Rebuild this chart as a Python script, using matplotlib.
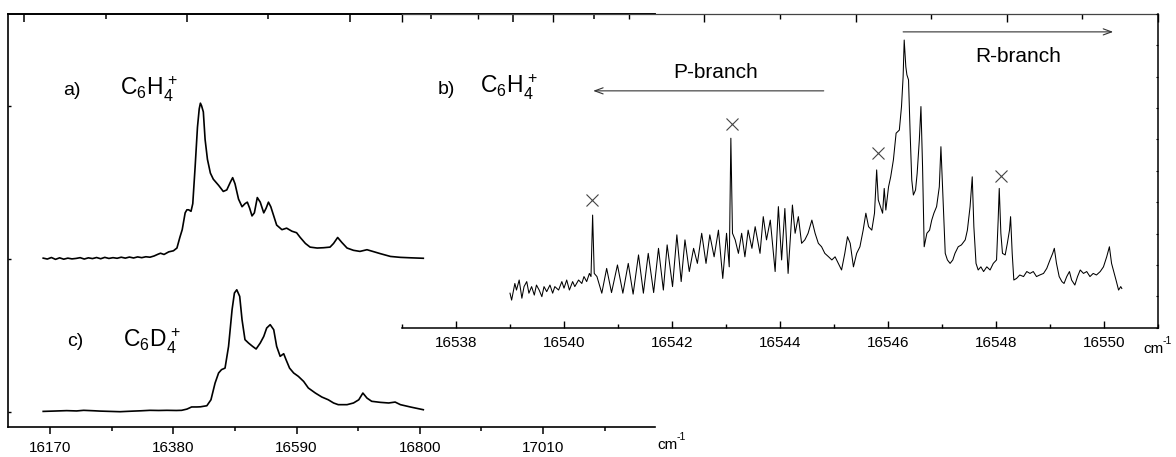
import matplotlib
matplotlib.use("Agg")
import matplotlib.pyplot as plt
from matplotlib.ticker import MultipleLocator, FixedLocator, NullFormatter

plt.rcParams["font.family"] = ["Liberation Sans", "DejaVu Sans"]
plt.rcParams["mathtext.fontset"] = "custom"
plt.rcParams["mathtext.rm"] = "Liberation Sans"
plt.rcParams["mathtext.it"] = "Liberation Sans:italic"
plt.rcParams["mathtext.bf"] = "Liberation Sans:bold"
plt.rcParams["mathtext.default"] = "regular"

# ---- a) C6H4+ low resolution spectrum (offset by 1)
a_x = [16158, 16165, 16172, 16179, 16186, 16193, 16200, 16207, 16214, 16221,
       16228, 16235, 16242, 16249, 16256, 16263, 16270, 16277, 16284, 16291,
       16298, 16305, 16312, 16319, 16326, 16333, 16340, 16347, 16354, 16358,
       16364, 16372, 16380, 16386, 16391, 16395, 16400, 16403, 16406, 16410,
       16413, 16417, 16421, 16424, 16426, 16428, 16431, 16434, 16438, 16443,
       16448, 16457, 16465, 16471, 16477, 16481, 16485, 16491, 16497, 16502,
       16506, 16510, 16514, 16518, 16523, 16528, 16534, 16538, 16542, 16546,
       16551, 16556, 16565, 16573, 16582, 16590, 16596, 16605, 16613, 16625,
       16636, 16647, 16653, 16660, 16667, 16676, 16687, 16698, 16710, 16718,
       16733, 16750, 16767, 16785, 16806]
a_y = [1.004, 0.998, 1.008, 0.996, 1.006, 0.997, 1.004, 0.999, 1.002, 1.007,
       0.998, 1.006, 1.001, 1.008, 1.000, 1.009, 1.002, 1.007, 1.003, 1.010,
       1.004, 1.011, 1.005, 1.012, 1.007, 1.013, 1.010, 1.018, 1.030, 1.036,
       1.028, 1.045, 1.052, 1.070, 1.140, 1.190, 1.300, 1.320, 1.320, 1.310,
       1.360, 1.600, 1.860, 1.980, 2.017, 2.000, 1.960, 1.780, 1.650, 1.560,
       1.520, 1.480, 1.440, 1.450, 1.500, 1.530, 1.490, 1.390, 1.340, 1.360,
       1.370, 1.330, 1.280, 1.300, 1.400, 1.370, 1.300, 1.330, 1.370, 1.340,
       1.280, 1.220, 1.190, 1.200, 1.180, 1.170, 1.140, 1.100, 1.076, 1.070,
       1.072, 1.076, 1.100, 1.139, 1.107, 1.070, 1.055, 1.048, 1.059, 1.050,
       1.033, 1.015, 1.009, 1.006, 1.003]

# ---- c) C6D4+ low resolution spectrum
c_x = [16158, 16175, 16198, 16215, 16227, 16245, 16255, 16272, 16289, 16300,
       16312, 16325, 16340, 16355, 16369, 16385, 16394, 16403, 16411, 16420,
       16426, 16437, 16444, 16451, 16457, 16462, 16468, 16474, 16480, 16484,
       16488, 16493, 16497, 16502, 16508, 16515, 16521, 16528, 16534, 16539,
       16545, 16551, 16556, 16562, 16568, 16572, 16578, 16585, 16593, 16602,
       16610, 16622, 16633, 16644, 16653, 16661, 16676, 16687, 16696, 16703,
       16710, 16718, 16733, 16747, 16758, 16767, 16785, 16806]
c_y = [0.002, 0.004, 0.007, 0.005, 0.009, 0.006, 0.004, 0.002, 0.000, 0.002,
       0.004, 0.006, 0.009, 0.008, 0.009, 0.008, 0.009, 0.017, 0.031, 0.031,
       0.032, 0.039, 0.078, 0.187, 0.253, 0.275, 0.285, 0.427, 0.667, 0.776,
       0.797, 0.754, 0.601, 0.471, 0.449, 0.427, 0.410, 0.449, 0.492, 0.547,
       0.569, 0.536, 0.427, 0.362, 0.379, 0.340, 0.285, 0.253, 0.231, 0.198,
       0.155, 0.122, 0.096, 0.078, 0.057, 0.046, 0.046, 0.057, 0.078, 0.122,
       0.089, 0.068, 0.061, 0.057, 0.063, 0.046, 0.030, 0.013]

# ---- b) C6H4+ high resolution spectrum
b_x = [16539.00, 16539.03, 16539.09, 16539.12, 16539.17, 16539.22, 16539.26, 16539.31,
       16539.35, 16539.40, 16539.45, 16539.49, 16539.54, 16539.59, 16539.63, 16539.68,
       16539.74, 16539.79, 16539.83, 16539.90, 16539.96, 16540.00, 16540.05, 16540.10,
       16540.16, 16540.20, 16540.27, 16540.33, 16540.37, 16540.42, 16540.47, 16540.50,
       16540.53, 16540.56, 16540.61, 16540.70, 16540.79, 16540.88, 16540.99, 16541.09,
       16541.19, 16541.28, 16541.38, 16541.47, 16541.56, 16541.66, 16541.75, 16541.84,
       16541.91, 16542.01, 16542.09, 16542.17, 16542.24, 16542.32, 16542.40, 16542.47,
       16542.55, 16542.63, 16542.70, 16542.78, 16542.86, 16542.94, 16543.01, 16543.06,
       16543.09, 16543.12, 16543.17, 16543.23, 16543.29, 16543.35, 16543.41, 16543.48,
       16543.54, 16543.60, 16543.63, 16543.69, 16543.75, 16543.82, 16543.91, 16543.97,
       16544.03, 16544.09, 16544.15, 16544.23, 16544.28, 16544.34, 16544.40, 16544.46,
       16544.52, 16544.59, 16544.65, 16544.71, 16544.77, 16544.83, 16544.90, 16544.96,
       16545.02, 16545.08, 16545.14, 16545.20, 16545.25, 16545.30, 16545.36, 16545.42,
       16545.48, 16545.54, 16545.59, 16545.64, 16545.70, 16545.75, 16545.79, 16545.82,
       16545.86, 16545.90, 16545.93, 16545.96, 16546.01, 16546.05, 16546.10, 16546.15,
       16546.21, 16546.25, 16546.28, 16546.30, 16546.33, 16546.35, 16546.38, 16546.41,
       16546.44, 16546.47, 16546.51, 16546.54, 16546.58, 16546.61, 16546.64, 16546.67,
       16546.72, 16546.77, 16546.81, 16546.85, 16546.90, 16546.95, 16546.98, 16547.01,
       16547.06, 16547.10, 16547.15, 16547.20, 16547.24, 16547.30, 16547.36, 16547.43,
       16547.47, 16547.52, 16547.56, 16547.59, 16547.63, 16547.67, 16547.72, 16547.77,
       16547.83, 16547.89, 16547.95, 16548.01, 16548.04, 16548.06, 16548.09, 16548.12,
       16548.17, 16548.21, 16548.25, 16548.27, 16548.30, 16548.33, 16548.38, 16548.44,
       16548.51, 16548.57, 16548.63, 16548.69, 16548.75, 16548.81, 16548.88, 16548.94,
       16549.00, 16549.05, 16549.08, 16549.12, 16549.17, 16549.22, 16549.26, 16549.31,
       16549.36, 16549.40, 16549.46, 16549.51, 16549.56, 16549.62, 16549.68, 16549.74,
       16549.80, 16549.86, 16549.93, 16549.99, 16550.05, 16550.10, 16550.14, 16550.19,
       16550.23, 16550.27, 16550.31, 16550.33]
b_y = [1.10, 0.88, 1.41, 1.20, 1.52, 0.94, 1.31, 1.47,
       1.10, 1.31, 1.04, 1.36, 1.20, 0.99, 1.31, 1.15,
       1.36, 1.10, 1.31, 1.20, 1.47, 1.26, 1.52, 1.20,
       1.47, 1.31, 1.52, 1.41, 1.63, 1.47, 1.73, 1.63,
       3.59, 1.73, 1.63, 1.10, 1.89, 1.12, 2.00, 1.10,
       2.05, 1.07, 2.32, 1.10, 2.37, 1.12, 2.53, 1.20,
       2.64, 1.31, 2.96, 1.47, 2.80, 1.79, 2.53, 2.05,
       3.01, 2.05, 2.96, 2.26, 3.11, 1.57, 3.01, 1.94,
       6.04, 3.01, 2.80, 2.37, 3.01, 2.26, 3.11, 2.53,
       3.22, 2.64, 2.37, 3.54, 2.80, 3.43, 1.79, 3.86,
       2.16, 3.80, 1.73, 3.91, 3.01, 3.54, 2.69, 2.80,
       3.01, 3.43, 3.01, 2.69, 2.58, 2.37, 2.26, 2.16,
       2.26, 2.05, 1.84, 2.37, 2.90, 2.69, 1.94, 2.37,
       2.58, 3.11, 3.65, 3.22, 3.11, 3.65, 5.03, 4.07,
       3.86, 3.65, 4.44, 3.75, 4.49, 4.81, 5.35, 6.20,
       6.30, 7.05, 8.00, 9.17, 8.32, 8.06, 7.90, 6.20,
       4.71, 4.23, 4.39, 4.92, 5.98, 7.05, 5.13, 2.58,
       3.01, 3.11, 3.43, 3.65, 3.86, 4.49, 5.77, 4.49,
       2.37, 2.16, 2.05, 2.16, 2.37, 2.58, 2.64, 2.80,
       3.11, 3.86, 4.81, 3.22, 2.05, 1.84, 1.94, 1.79,
       1.94, 1.84, 2.05, 2.16, 3.43, 4.44, 3.01, 2.37,
       2.32, 2.69, 3.11, 3.54, 2.37, 1.52, 1.57, 1.68,
       1.63, 1.79, 1.73, 1.79, 1.63, 1.68, 1.73, 1.89,
       2.16, 2.37, 2.53, 2.05, 1.63, 1.47, 1.41, 1.63,
       1.79, 1.52, 1.36, 1.63, 1.84, 1.73, 1.79, 1.63,
       1.73, 1.68, 1.79, 1.94, 2.26, 2.58, 2.05, 1.73,
       1.47, 1.20, 1.31, 1.25]

# impurity lines marked with crosses
mark_x = [16540.52, 16543.12, 16545.82, 16548.09]
mark_y = [4.07, 6.49, 5.58, 4.85]

W, H = 1176, 457
fig = plt.figure(figsize=(W / 100, H / 100), dpi=100)


def fx(px):
    return px / W


def fy(py):
    return 1 - py / H


# left panel: a) and c)
ax1 = fig.add_axes([fx(8), fy(427), (655 - 8) / W, (427 - 14) / H])
ax1.plot(a_x, a_y, color="black", lw=1.2)
ax1.plot(c_x, c_y, color="black", lw=1.2)
ax1.set_xlim(16098, 17201)
ax1.set_ylim(-0.1, 2.6)
ax1.spines["right"].set_visible(False)
for s in ["left", "top", "bottom"]:
    ax1.spines[s].set_linewidth(1.2)
ax1.xaxis.set_major_locator(MultipleLocator(210))
ax1.xaxis.set_minor_locator(MultipleLocator(105))
ax1.yaxis.set_major_locator(FixedLocator([0, 1, 2]))
ax1.yaxis.set_major_formatter(NullFormatter())
ax1.tick_params(axis="x", which="major", direction="out", length=4.8, width=1.1,
                labelsize=11, pad=5.5, top=False)
ax1.tick_params(axis="x", which="minor", direction="out", length=3.0, width=1.1, top=False)
ax1.tick_params(axis="y", direction="in", length=2.4, width=1.0, right=False)

# top axis of left panel with its own scale
top1 = ax1.secondary_xaxis("top", functions=(lambda v: (v - 16125.7) / 138.74,
                                              lambda u: u * 138.74 + 16125.7))
top1.xaxis.set_major_locator(FixedLocator([0, 2, 4, 6]))
top1.xaxis.set_minor_locator(FixedLocator([1, 3, 5, 7]))
top1.xaxis.set_major_formatter(NullFormatter())
top1.tick_params(which="major", direction="in", length=6.0, width=1.1)
top1.tick_params(which="minor", direction="in", length=3.6, width=1.1)
top1.spines["top"].set_linewidth(1.2)

# right panel: b) high resolution
ax2 = fig.add_axes([fx(402), fy(327.7), (1158 - 402) / W, (327.7 - 14) / H])
ax2.patch.set_visible(False)
ax2.plot(b_x, b_y, color="black", lw=0.75)
ax2.plot(mark_x, mark_y, "x", color="#444444", ms=9, mew=0.8)
ax2.set_xlim(16537, 16551)
ax2.set_ylim(0, 10)
ax2.spines["left"].set_visible(False)
ax2.spines["top"].set_visible(False)
ax2.spines["right"].set_linewidth(1.1)
ax2.spines["bottom"].set_linewidth(1.1)
ax2.xaxis.set_major_locator(MultipleLocator(2))
ax2.xaxis.set_minor_locator(MultipleLocator(1))
ax2.tick_params(axis="x", which="major", direction="in", length=5.4, width=1.0,
                labelsize=11, pad=6, top=False)
ax2.tick_params(axis="x", which="minor", direction="in", length=3.1, width=1.0, top=False)
ax2.yaxis.set_major_locator(MultipleLocator(1))
ax2.yaxis.tick_right()
ax2.tick_params(axis="y", direction="in", length=1.6, width=0.8, labelright=False)

top2 = ax2.secondary_xaxis("top", functions=(lambda v: (v - 16537) / 1.4,
                                              lambda u: u * 1.4 + 16537))
top2.xaxis.set_major_locator(FixedLocator([0, 2, 4, 6, 8, 10]))
top2.xaxis.set_minor_locator(FixedLocator([1, 3, 5, 7, 9]))
top2.xaxis.set_major_formatter(NullFormatter())
top2.tick_params(which="major", direction="in", length=5.4, width=1.0)
top2.tick_params(which="minor", direction="in", length=3.4, width=1.0)
top2.spines["top"].set_linewidth(0.9)
top2.spines["top"].set_color("#444444")

# branch arrows
ax2.annotate("", xy=(16540.54, 7.55), xytext=(16544.81, 7.55),
             arrowprops=dict(arrowstyle="->,head_length=0.6,head_width=0.22",
                             color="#333333", lw=0.8, shrinkA=0, shrinkB=0))
ax2.annotate("", xy=(16550.17, 9.43), xytext=(16546.28, 9.43),
             arrowprops=dict(arrowstyle="->,head_length=0.6,head_width=0.22",
                             color="#333333", lw=0.8, shrinkA=0, shrinkB=0))
ax2.text(16542.81, 8.12, "P-branch", fontsize=15, ha="center", va="center")
ax2.text(16548.41, 8.63, "R-branch", fontsize=15, ha="center", va="center")

# panel labels
lab = dict(fontsize=14, ha="left", va="baseline")
form = dict(fontsize=16.5, ha="left", va="baseline")
fig.text(fx(63), fy(95), "a)", **lab)
fig.text(fx(120), fy(95), r"C$_6$H$_4^{\,+}$", **form)
fig.text(fx(67), fy(346), "c)", **lab)
fig.text(fx(123), fy(347), r"C$_6$D$_4^{\,+}$", **form)
fig.text(fx(438), fy(94), "b)", **lab)
fig.text(fx(480), fy(94), r"C$_6$H$_4^{\,+}$", **form)

# units: "cm" with a small raised "-1"
for ux, uy in [(657, 449), (1143, 353)]:
    fig.text(fx(ux), fy(uy), "cm", fontsize=11, ha="left", va="baseline")
    fig.text(fx(ux + 20), fy(uy - 9), "-1", fontsize=7.5, ha="left", va="baseline")

fig.savefig("out.png", dpi=100)
